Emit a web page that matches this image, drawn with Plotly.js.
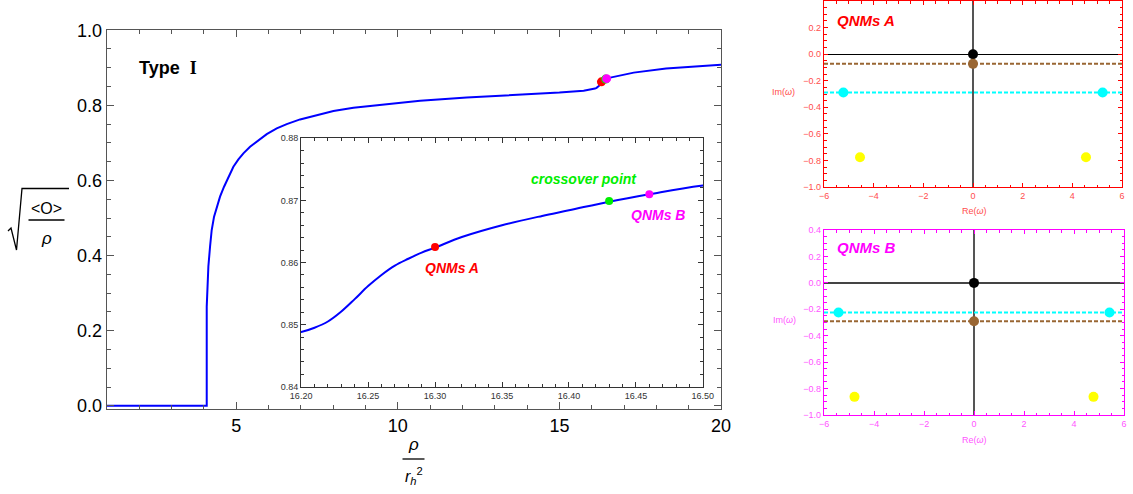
<!DOCTYPE html>
<html>
<head>
<meta charset="utf-8">
<script src="https://cdn.plot.ly/plotly-3.0.1.min.js"></script>
<style>html,body{margin:0;padding:0;background:#fff;}#chart{width:1133px;height:494px;}</style>
</head>
<body>
<div id="chart"></div>
<script>
// ---- data ----
const curveX = [1, 4.086, 4.086, 4.106, 4.137, 4.189, 4.24, 4.313, 4.395, 4.498, 4.622, 4.756, 4.911, 5.066, 5.221, 5.427, 5.685, 5.943, 6.253, 6.562, 6.975, 7.388, 8.007, 8.626, 9.349, 10.07, 10.69, 12.13, 14.2, 15.0, 15.75, 16.0, 16.1, 16.15,
  16.20, 16.21, 16.22, 16.23, 16.24, 16.25, 16.26, 16.27, 16.28, 16.29, 16.30, 16.32, 16.35, 16.38, 16.40, 16.43, 16.46, 16.50,
  16.7, 17.0, 17.3, 18.3, 19.2, 20];
const curveY = [0, 0, 0.264, 0.317, 0.371, 0.424, 0.468, 0.5035, 0.530, 0.5567, 0.5833, 0.610, 0.6365, 0.656, 0.672, 0.6897, 0.7074, 0.7234, 0.7385, 0.750, 0.7624, 0.772, 0.7846, 0.7934, 0.8005, 0.8067, 0.812, 0.821, 0.830, 0.834, 0.839, 0.842, 0.8445, 0.8465,
  0.8488, 0.8495, 0.8505, 0.8521, 0.8541, 0.8562, 0.8580, 0.8595, 0.8606, 0.8616, 0.8624, 0.8641, 0.8660, 0.8675, 0.8684, 0.8698, 0.8710, 0.8724,
  0.8765, 0.882, 0.887, 0.898, 0.904, 0.908];
const pointX = [16.30, 16.43, 16.46];
const pointY = [0.8625, 0.8699, 0.8710];
const pointColors = ['#ff0000', '#00ee00', '#ff00ff'];
const pointLabels = ['QNMs A', 'crossover point', 'QNMs B'];

const qnmA_re = [0, 0, -5.22, 5.22, -4.55, 4.55];
const qnmA_im = [0, -0.073, -0.289, -0.289, -0.776, -0.776];
const qnmB_re = [0, 0, -5.42, 5.42, -4.78, 4.78];
const qnmB_im = [0, -0.29, -0.2245, -0.2245, -0.863, -0.863];
const qnmColors = ['#000000', '#996633', '#00ffff', '#00ffff', '#ffff00', '#ffff00'];

const mainXTicks = [5, 10, 15, 20];
const mainYTicks = [0, 0.2, 0.4, 0.6, 0.8, 1.0];

// ---- helpers ----
const W = 1133, H = 494;
const px = v => v / W;
const py = v => 1 - v / H;
const FONT = 'Liberation Sans, Arial, sans-serif';

const traces = [];
// main curve
traces.push({x: curveX, y: curveY, xaxis: 'x', yaxis: 'y', mode: 'lines',
  line: {color: '#0000ff', width: 2}, hoverinfo: 'skip'});
traces.push({x: pointX, y: pointY, xaxis: 'x', yaxis: 'y', mode: 'markers',
  marker: {color: pointColors, size: 9}, hoverinfo: 'skip'});
// inset
traces.push({x: curveX, y: curveY, xaxis: 'x2', yaxis: 'y2', mode: 'lines',
  line: {color: '#0000ff', width: 2, shape: 'spline', smoothing: 1}, hoverinfo: 'skip'});
traces.push({x: pointX, y: pointY, xaxis: 'x2', yaxis: 'y2', mode: 'markers',
  marker: {color: pointColors, size: 8}, hoverinfo: 'skip'});

function panelTraces(re, im, xa, ya) {
  // dashed levels: brown (index 1), cyan (index 2)
  traces.push({x: [-6, 6], y: [im[1], im[1]], xaxis: xa, yaxis: ya, mode: 'lines',
    line: {color: qnmColors[1], width: 2, dash: '4px,2px'}, hoverinfo: 'skip'});
  traces.push({x: [-6, 6], y: [im[2], im[2]], xaxis: xa, yaxis: ya, mode: 'lines',
    line: {color: qnmColors[2], width: 2, dash: '4px,2px'}, hoverinfo: 'skip'});
  traces.push({x: re, y: im, xaxis: xa, yaxis: ya, mode: 'markers',
    marker: {color: qnmColors, size: 10}, hoverinfo: 'skip'});
}
panelTraces(qnmA_re, qnmA_im, 'x3', 'y3');
panelTraces(qnmB_re, qnmB_im, 'x4', 'y4');

function frameAxis(opts) {
  return Object.assign({
    showgrid: false, zeroline: false, showline: true, mirror: 'allticks',
    ticks: 'inside', fixedrange: true
  }, opts);
}

const mainFrame = '#555555';
const layout = {
  width: W, height: H, margin: {l: 0, r: 0, t: 0, b: 0},
  paper_bgcolor: '#ffffff', plot_bgcolor: '#ffffff', showlegend: false,
  xaxis: frameAxis({domain: [px(107), px(721)], range: [1, 20], anchor: 'y',
    tickmode: 'array', tickvals: mainXTicks, ticklen: 7, tickcolor: mainFrame,
    linecolor: mainFrame, linewidth: 1.3,
    minor: {ticks: 'inside', dtick: 1, tick0: 0, ticklen: 4, tickcolor: mainFrame},
    tickfont: {family: FONT, size: 18, color: '#000'}}),
  yaxis: frameAxis({domain: [py(409), py(30)], range: [-0.0085, 1.0005], anchor: 'x',
    tickmode: 'array', tickvals: mainYTicks, tickformat: '.1f', ticklen: 7, tickcolor: mainFrame,
    linecolor: mainFrame, linewidth: 1.3,
    minor: {ticks: 'inside', dtick: 0.05, tick0: 0, ticklen: 4, tickcolor: mainFrame},
    tickfont: {family: FONT, size: 18, color: '#000'}}),
  xaxis2: frameAxis({domain: [px(301), px(703)], range: [16.1999, 16.5001], anchor: 'y2',
    dtick: 0.05, tick0: 16.2, tickformat: '.2f', ticklen: 5, tickcolor: '#333',
    linecolor: '#333', linewidth: 1,
    minor: {ticks: 'inside', dtick: 0.01, tick0: 16.2, ticklen: 3, tickcolor: '#333'},
    tickfont: {family: FONT, size: 9, color: '#333'}}),
  yaxis2: frameAxis({domain: [py(387), py(138)], range: [0.83995, 0.88005], anchor: 'x2',
    dtick: 0.01, tick0: 0.84, tickformat: '.2f', ticklen: 5, tickcolor: '#333',
    linecolor: '#333', linewidth: 1,
    minor: {ticks: 'inside', dtick: 0.002, tick0: 0.84, ticklen: 3, tickcolor: '#333'},
    tickfont: {family: FONT, size: 9, color: '#333'}}),
  annotations: [], shapes: []
};

function panelAxes(xn, yn, xdom, ydom, col, lab, hzero) {
  layout[xn] = frameAxis({domain: xdom, range: [-6, 6], anchor: yn.replace('axis', ''),
    dtick: 2, tick0: 0, ticklen: 4, tickcolor: col, linecolor: col, linewidth: 1.2,
    zeroline: true, zerolinecolor: '#555', zerolinewidth: 1.3,
    minor: {ticks: 'inside', dtick: 0.5, tick0: 0, ticklen: 2.5, tickcolor: col},
    tickfont: {family: FONT, size: 9, color: lab}});
  layout[yn] = frameAxis({domain: ydom, range: [-1.0005, 0.4005], anchor: xn.replace('axis', ''),
    dtick: 0.2, tick0: 0, tickformat: '.1f', ticklen: 4, tickcolor: col, linecolor: col, linewidth: 1.2,
    zeroline: true, zerolinecolor: hzero, zerolinewidth: 1.3,
    minor: {ticks: 'inside', dtick: 0.05, tick0: 0, ticklen: 2.5, tickcolor: col},
    tickfont: {family: FONT, size: 9, color: lab}});
}
panelAxes('xaxis3', 'yaxis3', [px(824), px(1122)], [py(187), py(1)], '#ff0000', '#ff4d4d', '#000');
panelAxes('xaxis4', 'yaxis4', [px(824), px(1124)], [py(415), py(230)], '#ff00ff', '#ff55ff', '#444');

function ann(x, y, text, size, color, extra) {
  layout.annotations.push(Object.assign({xref: 'paper', yref: 'paper', x: px(x), y: py(y),
    text: text, showarrow: false, xanchor: 'center', yanchor: 'middle',
    font: {family: FONT, size: size, color: color}}, extra || {}));
}

// Type I
ann(137, 68, '<b>Type</b>  <b><span style="font-family:Liberation Serif, serif">I</span></b>', 18, '#000', {xanchor: 'left'});
// y title: sqrt(<O>/rho)
ann(46.5, 208, '&lt;O&gt;', 16, '#000');
ann(46.5, 238, '<i>ρ</i>', 17, '#000');
layout.shapes.push({type: 'line', xref: 'paper', yref: 'paper', x0: px(28.5), x1: px(64.5), y0: py(220), y1: py(220), line: {color: '#000', width: 1.3}});
layout.shapes.push({type: 'path', xref: 'paper', yref: 'paper',
  path: `M ${px(8)},${py(231)} L ${px(11)},${py(228)} L ${px(16.5)},${py(250)} L ${px(22)},${py(188.5)} L ${px(69)},${py(188.5)}`,
  line: {color: '#000', width: 1.3}});
// x title: rho / r_h^2
ann(413.5, 444, '<i>ρ</i>', 17, '#000');
ann(414, 476, '<i>r</i><sub><i>h</i></sub><sup>2</sup>', 16, '#000');
layout.shapes.push({type: 'line', xref: 'paper', yref: 'paper', x0: px(402.5), x1: px(424.5), y0: py(459), y1: py(459), line: {color: '#000', width: 1.3}});
// inset labels
ann(452, 268, '<b><i>' + pointLabels[0] + '</i></b>', 14, pointColors[0]);
ann(584, 179, '<b><i>' + pointLabels[1] + '</i></b>', 14, pointColors[1]);
ann(658, 215, '<b><i>' + pointLabels[2] + '</i></b>', 14, pointColors[2]);
// panel labels
ann(866, 20, '<b><i>QNMs A</i></b>', 15, '#ff0000');
ann(866, 247, '<b><i>QNMs B</i></b>', 15, '#ff00ff');
ann(783, 92, 'Im(<i>ω</i>)', 9, '#ff4d4d');
ann(974, 211, 'Re(<i>ω</i>)', 9, '#ff4d4d');
ann(784, 320, 'Im(<i>ω</i>)', 9, '#ff55ff');
ann(974, 440, 'Re(<i>ω</i>)', 9, '#ff55ff');

Plotly.newPlot('chart', traces, layout, {staticPlot: true, displayModeBar: false});
</script>
</body>
</html>
